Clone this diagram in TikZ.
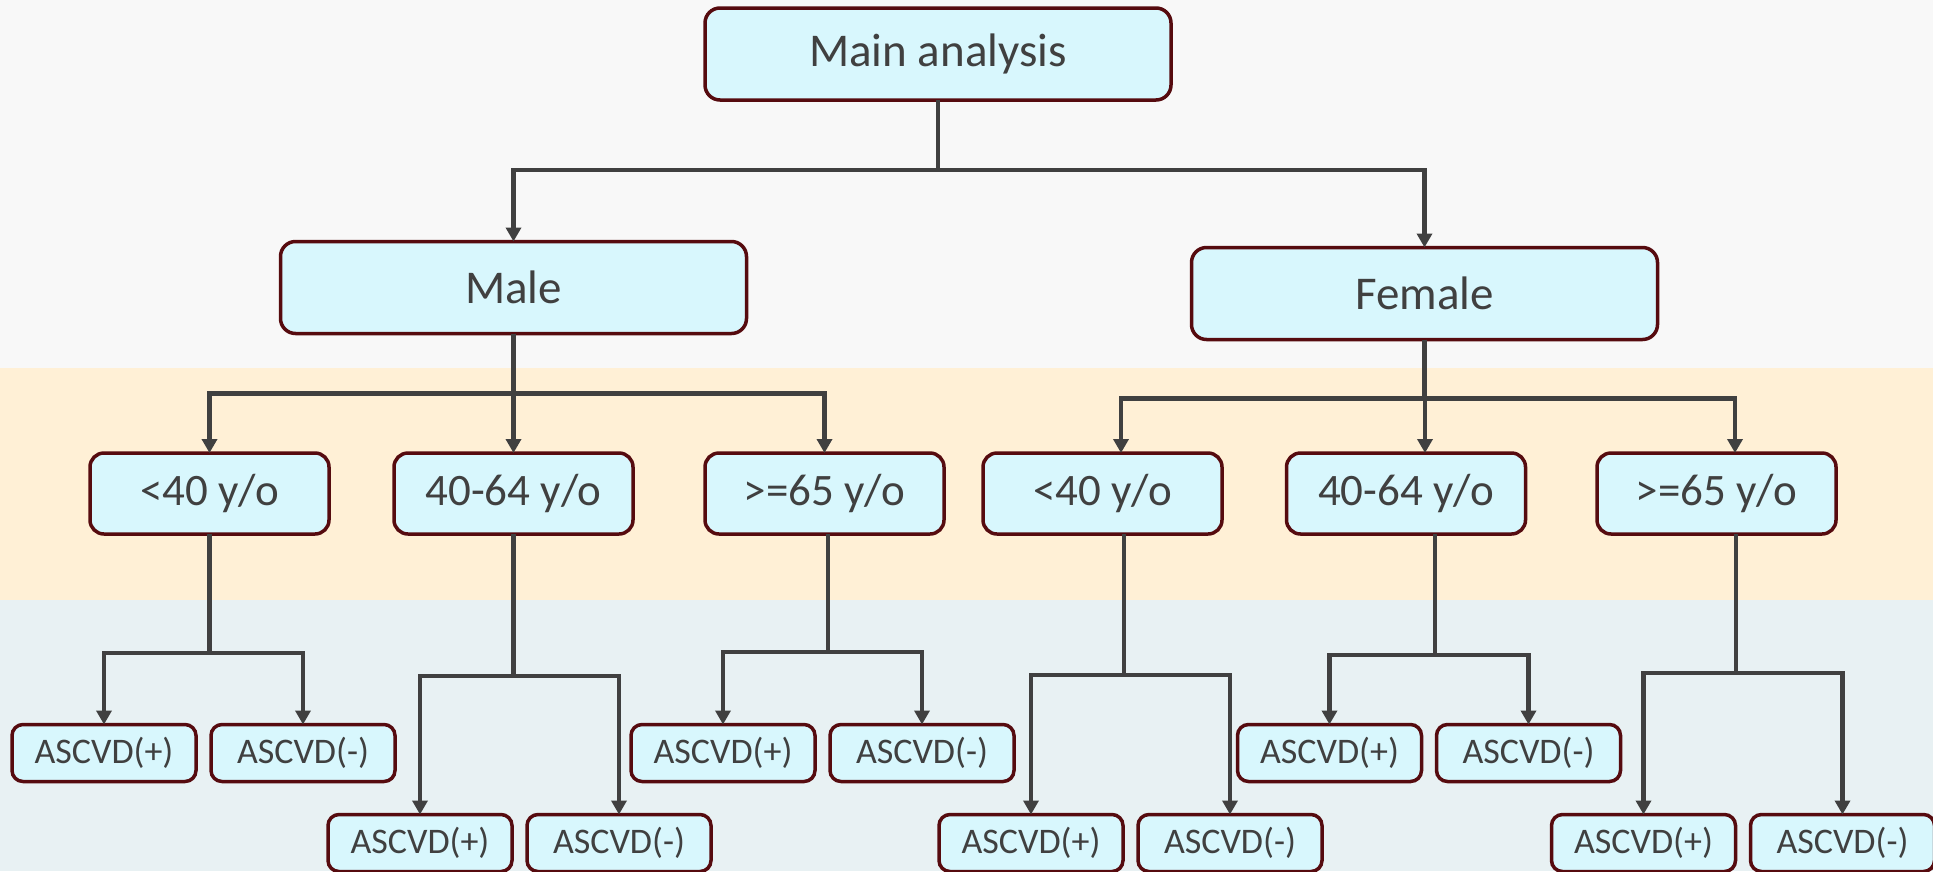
\documentclass[tikz,border=0pt]{standalone}
\usepackage{fontspec}
\setmainfont{Carlito}
\usepackage{tikz}
\usetikzlibrary{positioning,arrows.meta}

\definecolor{boxfill}{HTML}{D8F7FD}
\definecolor{boxline}{HTML}{560B0F}
\definecolor{linkgray}{HTML}{404040}
\definecolor{bandtop}{HTML}{F8F8F8}
\definecolor{bandmid}{HTML}{FFF0D6}
\definecolor{bandlow}{HTML}{E8F1F3}

\begin{document}
\begin{tikzpicture}[x=1pt, y=1pt, node distance=15pt, >={Triangle[length=14pt, width=15pt]},
    box/.style={draw=boxline, fill=boxfill, line width=3.5pt, inner sep=0pt, outer sep=0pt, text=linkgray},
    bigbox/.style={box, rounded corners=15pt, minimum width=466pt, minimum height=92pt, font=\fontsize{47}{56}\selectfont},
    agebox/.style={box, rounded corners=14pt, minimum width=239pt, minimum height=81pt, font=\fontsize{45}{54}\selectfont},
    outbox/.style={box, rounded corners=11pt, minimum width=184pt, minimum height=57pt, font=\fontsize{36}{43}\selectfont},
    link/.style={->, draw=linkgray, color=linkgray, line width=4.5pt}]
    \useasboundingbox (0,0) rectangle (1933,-871);
    % bands
    \fill[bandtop] (0,0) rectangle (1933,-368);
    \fill[bandmid] (0,-368) rectangle (1933,-600);
    \fill[bandlow] (0,-600) rectangle (1933,-871);

    \node[bigbox] (main) at (938,-54) {Main analysis};
    \node[bigbox] (male) at (513.5,-287.5) {Male};
    \node[bigbox] (female) at (1424.5,-293.5) {Female};

    \node[agebox] (m1) at (209.5,-493.5) {<40 y/o};
    \node[agebox] (m2) at (513.5,-493.5) {40-64 y/o};
    \node[agebox] (m3) at (824.5,-493.5) {>=65 y/o};
    \node[agebox] (f1) at (1102.5,-493.5) {<40 y/o};
    \node[agebox] (f2) at (1406,-493.5) {40-64 y/o};
    \node[agebox] (f3) at (1716.5,-493.5) {>=65 y/o};

    \node[outbox] (m1p) at (104,-753) {ASCVD(+)};
    \node[outbox, right=of m1p] (m1n) {ASCVD(-)};
    \node[outbox] (m2p) at (420,-843) {ASCVD(+)};
    \node[outbox, right=of m2p] (m2n) {ASCVD(-)};
    \node[outbox] (m3p) at (723,-753) {ASCVD(+)};
    \node[outbox, right=of m3p] (m3n) {ASCVD(-)};
    \node[outbox] (f1p) at (1031,-843) {ASCVD(+)};
    \node[outbox, right=of f1p] (f1n) {ASCVD(-)};
    \node[outbox] (f2p) at (1329.5,-753) {ASCVD(+)};
    \node[outbox, right=of f2p] (f2n) {ASCVD(-)};
    \node[outbox] (f3p) at (1643.5,-843) {ASCVD(+)};
    \node[outbox, right=of f3p] (f3n) {ASCVD(-)};

    % sex split
    \draw[link] (main.south) -- ++(0,-70) -| (male.north);
    \draw[link] (main.south) -- ++(0,-70) -| (female.north);
    % age split
    \draw[link] (male.south) -- ++(0,-60) -| (m1.north);
    \draw[link] (male.south) -- ++(0,-60) -| (m2.north);
    \draw[link] (male.south) -- ++(0,-60) -| (m3.north);
    \draw[link] (female.south) -- ++(0,-59) -| ([xshift=18.5pt]f1.north);
    \draw[link] (female.south) -- ++(0,-59) -| ([xshift=19pt]f2.north);
    \draw[link] (female.south) -- ++(0,-59) -| ([xshift=18.5pt]f3.north);
    % ASCVD split
    \draw[link] (m1.south) -- ++(0,-119) -| (m1p.north);
    \draw[link] (m1.south) -- ++(0,-119) -| (m1n.north);
    \draw[link] (m2.south) -- ++(0,-142) -| (m2p.north);
    \draw[link] (m2.south) -- ++(0,-142) -| (m2n.north);
    \draw[link] ([xshift=3.5pt]m3.south) -- ++(0,-118) -| (m3p.north);
    \draw[link] ([xshift=3.5pt]m3.south) -- ++(0,-118) -| (m3n.north);
    \draw[link] ([xshift=21.5pt]f1.south) -- ++(0,-141) -| (f1p.north);
    \draw[link] ([xshift=21.5pt]f1.south) -- ++(0,-141) -| (f1n.north);
    \draw[link] ([xshift=29pt]f2.south) -- ++(0,-121) -| (f2p.north);
    \draw[link] ([xshift=29pt]f2.south) -- ++(0,-121) -| (f2n.north);
    \draw[link] ([xshift=19.5pt]f3.south) -- ++(0,-139) -| (f3p.north);
    \draw[link] ([xshift=19.5pt]f3.south) -- ++(0,-139) -| (f3n.north);
\end{tikzpicture}
\end{document}
